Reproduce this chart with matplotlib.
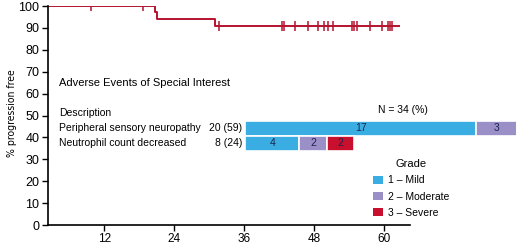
import numpy as np
import matplotlib
matplotlib.use("Agg")
import matplotlib.pyplot as plt
from matplotlib import font_manager
from matplotlib.patches import Patch

# === Data ===
# Kaplan-Meier step curve (months, % progression free)
km_times = [0, 20.7, 21.0, 30.9, 62.6]
km_surv = [100, 97.1, 94.1, 91.0, 91.0]
censor_times = [9.7, 18.7, 31.7, 42.4, 42.8, 44.7, 47.0, 48.7, 49.6, 50.3,
                51.2, 54.4, 54.8, 55.3, 57.6, 59.6, 60.7, 61.0, 61.3]
x_ticks = [12, 24, 36, 48, 60]
y_ticks = [0, 10, 20, 30, 40, 50, 60, 70, 80, 90, 100]

# Adverse events table
ae_names = ["Peripheral sensory neuropathy", "Neutrophil count decreased"]
ae_counts = ["20 (59)", "8 (24)"]
grade_labels = ["1 \u2013 Mild", "2 \u2013 Moderate", "3 \u2013 Severe"]
grade_values = {
    "1 \u2013 Mild": [17, 4],
    "2 \u2013 Moderate": [3, 2],
    "3 \u2013 Severe": [0, 2],
}
grade_colors = ["#3aaee2", "#9a8fc6", "#c8102e"]

# === Style ===
plt.rcParams['font.family'] = ['Liberation Sans', 'DejaVu Sans']
CURVE_COLOR = "#b5122f"
TEXT_DARK = "#1c2450"

# condensed font for the y label, if one is around
names = {f.name for f in font_manager.fontManager.ttflist}
if "Liberation Sans Narrow" in names:
    ylab_font = dict(family=["Liberation Sans Narrow"], fontsize=8.8)
else:
    ylab_font = dict(family=["DejaVu Sans"], stretch="condensed", fontsize=7.5)

W, H = 520, 245
fig = plt.figure(figsize=(W / 100, H / 100), dpi=100)

def fx(px):
    return px / W

def fy(py):
    return 1 - py / H

# === Main KM axes ===
ax = fig.add_axes([fx(47.7), fy(225), fx(410 - 47.7), (225 - 6) / H])
ax.step(km_times, km_surv, where="post", color=CURVE_COLOR, lw=1.4)
idx = np.searchsorted(km_times, censor_times, side="right") - 1
censor_vals = np.array(km_surv)[idx]
ax.plot(censor_times, censor_vals, ls="none", marker="|", ms=7, mew=1.1,
        color=CURVE_COLOR)
ax.set_xlim(2.3, 64.4)
ax.set_ylim(0, 100)
ax.set_xticks(x_ticks)
ax.set_yticks(y_ticks)
ax.tick_params(axis="both", direction="out", length=4, width=1,
               labelsize=9, color="black")
ax.tick_params(axis="y", pad=2)
ax.tick_params(axis="x", pad=2, labelsize=8.5)
for s in ["top", "right"]:
    ax.spines[s].set_visible(False)
for s in ["left", "bottom"]:
    ax.spines[s].set_linewidth(1.2)
ax.set_facecolor("none")

fig.text(fx(12.5), fy(113), "% progression free", rotation=90, ha="center",
         va="center", **ylab_font)

# === Adverse events inset ===
fig.text(fx(59), fy(83), "Adverse Events of Special Interest", ha="left",
         va="center", fontsize=8)
fig.text(fx(59), fy(113), "Description", ha="left", va="center", fontsize=7.5)
fig.text(fx(403), fy(110), "N = 34 (%)", ha="center", va="center", fontsize=7.5)

unit_px = 13.6
bax = fig.add_axes([fx(245), fy(150.8), fx(W - 245), 30 / H])
bax.set_xlim(0, (W - 245) / unit_px)
bax.set_ylim(1.5, -0.5)
bax.axis("off")
rows = np.arange(len(ae_names))
left = np.zeros(len(ae_names))
for g, c in zip(grade_labels, grade_colors):
    vals = np.array(grade_values[g], dtype=float)
    bax.barh(rows, vals, left=left, height=1.0, color=c,
             edgecolor="white", linewidth=1.2, label=g)
    for r, v, l0 in zip(rows, vals, left):
        if v > 0:
            bax.text(l0 + v / 2, r, f"{int(v)}", ha="center", va="center",
                     fontsize=7.5, color=TEXT_DARK)
    left += vals

trans = matplotlib.transforms.blended_transform_factory(fig.transFigure, bax.transData)
for r, name, cnt in zip(rows, ae_names, ae_counts):
    bax.text(fx(59), r, name, transform=trans, ha="left", va="center", fontsize=7.5)
    bax.text(fx(242), r, cnt, transform=trans, ha="right", va="center", fontsize=7.5)

# === Legend ===
handles = [Patch(facecolor=c, edgecolor="none", label=g)
           for g, c in zip(grade_labels, grade_colors)]
fig.legend(handles=handles, title="Grade", loc="upper left",
           bbox_to_anchor=(fx(369), fy(155)), frameon=False, fontsize=7.5,
           title_fontsize=8, handlelength=0.95, handleheight=0.75,
           handletextpad=0.5, labelspacing=0.6, borderaxespad=0)

fig.savefig("out.png", dpi=100)
